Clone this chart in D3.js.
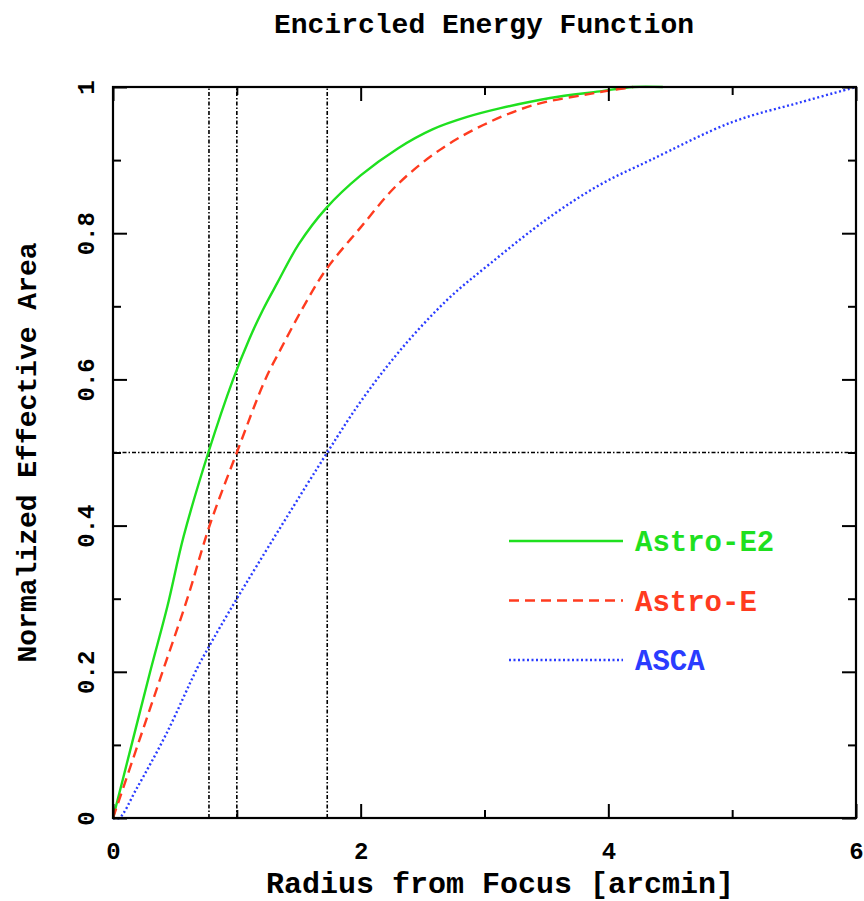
<!DOCTYPE html>
<html>
<head>
<meta charset="utf-8">
<script src="https://cdn.jsdelivr.net/npm/d3@7"></script>
<style>
  body { margin: 0; background: #fff; }
  svg { display: block; }
</style>
</head>
<body>
<div id="chart"></div>
<script>
// values
const radiusE2 = [0, 0.15, 0.30, 0.44, 0.57, 0.77, 0.97, 1.1, 1.21, 1.33, 1.5, 1.72, 2.0, 2.3, 2.58, 2.86, 3.13, 3.53, 3.93, 4.2, 4.44];
const astroE2 = [0, 0.1, 0.2, 0.29, 0.385, 0.5, 0.6, 0.655, 0.695, 0.733, 0.785, 0.834, 0.879, 0.916, 0.942, 0.959, 0.971, 0.985, 0.994, 1.0, 1.0];

const radiusE = [0, 0.2, 0.4, 0.6, 0.78, 1.0, 1.23, 1.35, 1.54, 1.72, 2.0, 2.3, 2.64, 2.99, 3.39, 3.83, 4.04, 4.2];
const astroE = [0, 0.1, 0.2, 0.3, 0.4, 0.5, 0.6, 0.64, 0.7, 0.75, 0.808, 0.867, 0.914, 0.948, 0.975, 0.99, 0.996, 1.0];

const radiusA = [0, 0.05, 0.19, 0.43, 0.68, 0.77, 1.0, 1.73, 2.01, 2.32, 2.70, 3.05, 3.51, 3.93, 4.34, 5.0, 5.55, 6.0];
const asca = [0, 0, 0.04, 0.115, 0.205, 0.233, 0.30, 0.5, 0.572, 0.64, 0.709, 0.759, 0.82, 0.866, 0.90, 0.952, 0.979, 1.0];

const refX = [0.775, 1.0, 1.73];
const refY = [0.5];

const xTicks = [0, 2, 4, 6];
const xMinor = [1, 3, 5];
const yTicks = [0, 0.2, 0.4, 0.6, 0.8, 1];
const yMinor = [0.1, 0.3, 0.5, 0.7, 0.9];

const series = [
  {name: "Astro-E2", x: radiusE2, y: astroE2, color: "#1fe01f", dash: null},
  {name: "Astro-E", x: radiusE, y: astroE, color: "#ff3b1f", dash: "10,6"},
  {name: "ASCA", x: radiusA, y: asca, color: "#2a3cff", dash: "2,2.5"}
];

const width = 864, height = 901;
const margin = {top: 87, right: 8, bottom: 83, left: 113};
const font = "'Liberation Mono', 'DejaVu Sans Mono', monospace";

const svg = d3.select("#chart").append("svg")
  .attr("width", width)
  .attr("height", height);

const x = d3.scaleLinear().domain([0, 6]).range([margin.left, width - margin.right]);
const y = d3.scaleLinear().domain([0, 1]).range([height - margin.bottom, margin.top]);

// reference lines
svg.append("g")
  .selectAll("line")
  .data(refX)
  .join("line")
  .attr("x1", d => x(d)).attr("x2", d => x(d))
  .attr("y1", y(0)).attr("y2", y(1))
  .attr("stroke", "#000")
  .attr("stroke-width", 1.6)
  .attr("stroke-dasharray", "4,2,1.5,2");

svg.append("g")
  .selectAll("line")
  .data(refY)
  .join("line")
  .attr("x1", x(0)).attr("x2", x(6))
  .attr("y1", d => y(d)).attr("y2", d => y(d))
  .attr("stroke", "#000")
  .attr("stroke-width", 1.6)
  .attr("stroke-dasharray", "4,2,1.5,2");

// curves
const line = d3.line()
  .x(d => x(d[0]))
  .y(d => y(d[1]))
  .curve(d3.curveCatmullRom.alpha(0.5));

series.forEach(s => {
  svg.append("path")
    .attr("d", line(s.x.map((v, i) => [v, s.y[i]])))
    .attr("fill", "none")
    .attr("stroke", s.color)
    .attr("stroke-width", 2.4)
    .attr("stroke-dasharray", s.dash);
});

// frame and axes
const axisStyle = g => {
  g.select(".domain").remove();
  g.selectAll(".tick line").attr("stroke", "#000").attr("stroke-width", 2);
  g.selectAll(".tick text").attr("fill", "#000");
};

svg.append("g")
  .attr("transform", `translate(0,${y(0)})`)
  .call(d3.axisBottom(x).tickValues(xTicks).tickSize(-14).tickPadding(24).tickFormat(d3.format("d")))
  .call(axisStyle)
  .attr("font-family", font).attr("font-size", 24).attr("font-weight", "bold");

svg.append("g")
  .attr("transform", `translate(0,${y(0)})`)
  .call(d3.axisBottom(x).tickValues(xMinor).tickSize(-8).tickFormat(""))
  .call(axisStyle);

svg.append("g")
  .attr("transform", `translate(0,${y(1)})`)
  .call(d3.axisTop(x).tickValues(xTicks).tickSize(-14).tickFormat(""))
  .call(axisStyle);

svg.append("g")
  .attr("transform", `translate(0,${y(1)})`)
  .call(d3.axisTop(x).tickValues(xMinor).tickSize(-8).tickFormat(""))
  .call(axisStyle);

const yAxisG = svg.append("g")
  .attr("transform", `translate(${x(0)},0)`)
  .call(d3.axisLeft(y).tickValues(yTicks).tickSize(-14)
    .tickFormat(d => d === 0 || d === 1 ? d3.format("d")(d) : d3.format(".1f")(d)))
  .call(axisStyle)
  .attr("font-family", font).attr("font-size", 24).attr("font-weight", "bold");

yAxisG.selectAll(".tick text")
  .attr("x", 0)
  .attr("y", -19)
  .attr("dy", 0)
  .attr("text-anchor", "middle")
  .attr("transform", "rotate(-90)");

svg.append("g")
  .attr("transform", `translate(${x(0)},0)`)
  .call(d3.axisLeft(y).tickValues(yMinor).tickSize(-8).tickFormat(""))
  .call(axisStyle);

svg.append("g")
  .attr("transform", `translate(${x(6)},0)`)
  .call(d3.axisRight(y).tickValues(yTicks).tickSize(-14).tickFormat(""))
  .call(axisStyle);

svg.append("g")
  .attr("transform", `translate(${x(6)},0)`)
  .call(d3.axisRight(y).tickValues(yMinor).tickSize(-8).tickFormat(""))
  .call(axisStyle);

svg.append("rect")
  .attr("x", x(0)).attr("y", y(1))
  .attr("width", x(6) - x(0)).attr("height", y(0) - y(1))
  .attr("fill", "none")
  .attr("stroke", "#000")
  .attr("stroke-width", 2.2);

// titles
svg.append("text")
  .attr("x", 484).attr("y", 33)
  .attr("text-anchor", "middle")
  .attr("font-family", font).attr("font-size", 28).attr("font-weight", "bold")
  .text("Encircled Energy Function");

svg.append("text")
  .attr("x", 500).attr("y", 893)
  .attr("text-anchor", "middle")
  .attr("font-family", font).attr("font-size", 30).attr("font-weight", "bold")
  .text("Radius from Focus [arcmin]");

svg.append("text")
  .attr("transform", `translate(36,${(y(0) + y(1)) / 2}) rotate(-90)`)
  .attr("text-anchor", "middle")
  .attr("font-family", font).attr("font-size", 28).attr("font-weight", "bold")
  .text("Normalized Effective Area");

// legend
const legend = svg.append("g");
series.forEach((s, i) => {
  const ly = 541 + i * 59.5;
  legend.append("line")
    .attr("x1", 509).attr("x2", 623)
    .attr("y1", ly).attr("y2", ly)
    .attr("stroke", s.color)
    .attr("stroke-width", 2.4)
    .attr("stroke-dasharray", s.dash);
  legend.append("text")
    .attr("x", 635).attr("y", ly)
    .attr("dy", "0.35em")
    .attr("fill", s.color)
    .attr("font-family", font).attr("font-size", 29).attr("font-weight", "bold")
    .text(s.name);
});
</script>
</body>
</html>
